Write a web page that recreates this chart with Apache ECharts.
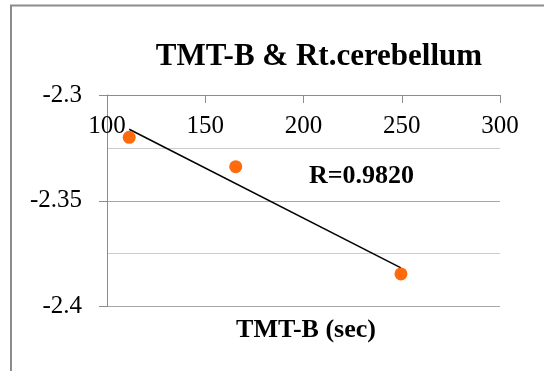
<!DOCTYPE html>
<html>
<head>
<meta charset="utf-8">
<script src="https://cdn.jsdelivr.net/npm/echarts@6/dist/echarts.min.js"></script>
<style>html,body{margin:0;padding:0;background:#fff;}#c{width:544px;height:371px;}</style>
</head>
<body>
<div id="c"></div>
<script>
var titleText = 'TMT-B & Rt.cerebellum';
var xAxisName = 'TMT-B (sec)';
var rText = 'R=0.9820';
var tmtB = [111.3, 165.5, 249.6];
var cerebellum = [-2.3200, -2.3339, -2.3846];
var trendX = [111.3, 249.6];
var trendY = [-2.3162, -2.3817];

var FONT = 'Liberation Serif';
var chart = echarts.init(document.getElementById('c'));
chart.setOption({
  animation: false,
  backgroundColor: '#fff',
  grid: {left: 107, right: 44, top: 95, bottom: 64.5},
  xAxis: {
    type: 'value', position: 'top', min: 100, max: 300, interval: 50,
    axisLine: {show: true, lineStyle: {color: '#8c8c8c', width: 1}},
    axisTick: {show: true, inside: true, length: 8, lineStyle: {color: '#8c8c8c'}},
    axisLabel: {inside: true, margin: 19, color: '#000', fontFamily: FONT, fontSize: 25},
    splitLine: {show: false}
  },
  yAxis: {
    type: 'value', min: -2.4, max: -2.3, interval: 0.05, minorSplitNumber: 2,
    axisLine: {show: true, lineStyle: {color: '#8c8c8c', width: 1}},
    axisTick: {show: true, length: 8, lineStyle: {color: '#8c8c8c'}},
    axisLabel: {margin: 25, color: '#000', fontFamily: FONT, fontSize: 25, padding: [5, 0, 0, 0]},
    splitLine: {show: true, lineStyle: {color: '#a6a6a6', width: 1}},
    minorTick: {show: false, splitNumber: 2},
    minorSplitLine: {show: true, lineStyle: {color: '#cccccc', width: 1}}
  },
  graphic: [
    {type: 'rect', silent: true, shape: {x: 11, y: 5.5, width: 700, height: 500},
     style: {fill: 'none', stroke: '#8c8c8c', lineWidth: 2}},
    {type: 'text', silent: true,
     style: {text: titleText, x: 319, y: 56.5, textAlign: 'center', textVerticalAlign: 'middle',
       font: 'bold 31px "Liberation Serif"', fill: '#000'}},
    {type: 'text', silent: true,
     style: {text: rText, x: 309, y: 176.5, textAlign: 'left', textVerticalAlign: 'middle',
       font: 'bold 26px "Liberation Serif"', fill: '#000'}},
    {type: 'text', silent: true,
     style: {text: xAxisName, x: 306, y: 330, textAlign: 'center', textVerticalAlign: 'middle',
       font: 'bold 26px "Liberation Serif"', fill: '#000'}}
  ],
  series: [
    {type: 'line', data: trendX.map(function (x, i) { return [x, trendY[i]]; }),
     symbol: 'none', lineStyle: {color: '#000', width: 1.5}, z: 2},
    {type: 'scatter', data: tmtB.map(function (x, i) { return [x, cerebellum[i]]; }),
     symbolSize: 13, itemStyle: {color: '#ff6a0d', opacity: 1}, z: 3}
  ]
});
</script>
</body>
</html>
